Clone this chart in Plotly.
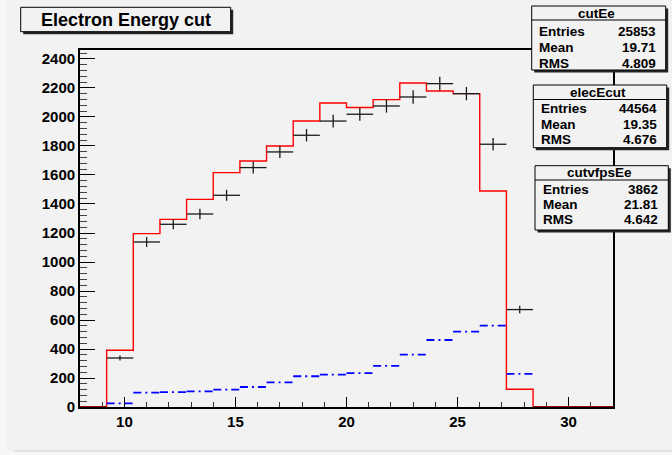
import numpy as np
import plotly.graph_objects as go

# ---------------- data ----------------
x_min, x_max, n_bins = 8.0, 32.0, 20

# cutEe (red histogram)
cutEe_counts = [0, 391, 1196, 1294, 1432, 1616, 1697, 1800, 1972, 2097,
                2065, 2120, 2234, 2179, 2161, 1490, 122, 0, 0, 0]
# elecEcut (black points with errors, scaled)
elec_counts = [0, 338, 1138, 1260, 1331, 1460, 1651, 1759, 1874, 1972,
               2019, 2076, 2138, 2230, 2161, 1812, 672, 0, 0, 0]
elec_errors = [0, 18, 34, 35, 36, 38, 41, 42, 43, 44,
               45, 46, 46, 47, 46, 43, 26, 0, 0, 0]
# cutvfpsEe (blue dash-dot)
vfps_counts = [0, 25, 99, 103, 108, 120, 138, 170, 212, 223,
               234, 283, 361, 462, 520, 561, 228, 0, 0, 0]

title_text = "Electron Energy cut"
stat_names = ["cutEe", "elecEcut", "cutvfpsEe"]
stat_entries = ["25853", "44564", "3862"]
stat_means = ["19.71", "19.35", "21.81"]
stat_rms = ["4.809", "4.676", "4.642"]

y_range = [0, 2462]
x_ticks = [10, 15, 20, 25, 30]

# ---------------- geometry helpers ----------------
W, H = 672, 455
L, R, T, B = 80, 613, 50, 407


def px(x):
    return (x - L) / (R - L)


def py(y):
    return (B - y) / (B - T)


edges = np.linspace(x_min, x_max, n_bins + 1)
centers = 0.5 * (edges[:-1] + edges[1:])
half_w = 0.5 * (edges[1] - edges[0])

fig = go.Figure()

# red step histogram
fig.add_trace(go.Scatter(
    x=list(edges), y=list(cutEe_counts) + [cutEe_counts[-1]],
    mode="lines", line=dict(color="#ff0000", width=1.4, shape="hv"),
    hoverinfo="skip", showlegend=False))

# dark red where the red histogram lies on the axis
zx, zy = [], []
for i, c in enumerate(cutEe_counts):
    if c == 0:
        zx += [edges[i], edges[i + 1], None]
        zy += [0, 0, None]
fig.add_trace(go.Scatter(x=zx, y=zy, mode="lines",
                         line=dict(color="#9a0000", width=2),
                         hoverinfo="skip", showlegend=False))

# blue dash-dot segments
bx, by = [], []
for i, c in enumerate(vfps_counts):
    if c > 0:
        bx += [edges[i], edges[i + 1], None]
        by += [c, c, None]
fig.add_trace(go.Scatter(x=bx, y=by, mode="lines",
                         line=dict(color="#0000ff", width=1.8, dash="8px,4px,2px,4px"),
                         hoverinfo="skip", showlegend=False))

# black points with error bars
mask = [c > 0 for c in elec_counts]
ex = [centers[i] for i in range(n_bins) if mask[i]]
ey = [elec_counts[i] for i in range(n_bins) if mask[i]]
ee = [elec_errors[i] for i in range(n_bins) if mask[i]]
fig.add_trace(go.Scatter(
    x=ex, y=ey, mode="markers",
    marker=dict(size=1, color="rgba(0,0,0,0)"),
    error_x=dict(type="constant", value=half_w, width=0, thickness=1.3, color="#1a1a1a"),
    error_y=dict(type="data", array=ee, width=0, thickness=1.3, color="#1a1a1a"),
    hoverinfo="skip", showlegend=False))

tickfont = dict(family="Liberation Sans", size=15, color="black", weight="bold")

fig.update_xaxes(range=[x_min, x_max], tickmode="array", tickvals=x_ticks,
                 ticks="inside", ticklen=10, tickwidth=1.2, tickcolor="black",
                 minor=dict(dtick=1, tick0=0, ticks="inside", ticklen=5, tickwidth=1.2, tickcolor="#333"),
                 showline=True, linecolor="black", linewidth=1.5, mirror=True,
                 showgrid=False, zeroline=False, tickfont=tickfont, layer="below traces")
fig.update_yaxes(range=y_range, dtick=200, tick0=0,
                 ticks="inside", ticklen=15, tickwidth=1.2, tickcolor="black",
                 minor=dict(dtick=40, tick0=0, ticks="inside", ticklen=7, tickwidth=1.2, tickcolor="#444"),
                 showline=True, linecolor="black", linewidth=1.8, mirror=True,
                 showgrid=False, zeroline=False, tickfont=tickfont, layer="below traces")

shapes = []
annotations = []

# canvas decorations
shapes.append(dict(type="rect", xref="paper", yref="paper",
                   x0=px(0), x1=px(7), y0=py(H), y1=py(0),
                   fillcolor="#f7f7f7", line=dict(width=0), layer="below"))
shapes.append(dict(type="line", xref="paper", yref="paper",
                   x0=px(14), x1=px(W), y0=py(451), y1=py(451),
                   line=dict(color="#d0d0d0", width=1.2), layer="below"))
shapes.append(dict(type="rect", xref="paper", yref="paper",
                   x0=px(7), x1=px(W), y0=py(H), y1=py(451.8),
                   fillcolor="#f7f7f7", line=dict(width=0), layer="below"))


def box(x0, y0, x1, y1, shadow=2.5):
    shapes.append(dict(type="rect", xref="paper", yref="paper",
                       x0=px(x0 + shadow), x1=px(x1 + shadow),
                       y0=py(y1 + shadow), y1=py(y0 + shadow),
                       fillcolor="#262626", line=dict(width=0), layer="above"))
    shapes.append(dict(type="rect", xref="paper", yref="paper",
                       x0=px(x0), x1=px(x1), y0=py(y1), y1=py(y0),
                       fillcolor="#f2f2f2", line=dict(color="black", width=1), layer="above"))


def text(x, y, s, size, anchor):
    annotations.append(dict(xref="paper", yref="paper", x=px(x), y=py(y),
                            text=s, showarrow=False, xanchor=anchor, yanchor="middle",
                            font=dict(family="Liberation Sans", size=size, color="black", weight="bold")))


# title box
box(20.7, 7.3, 230.7, 31.7, shadow=2.5)
text(125.7, 19.5, title_text, 18, "center")

# stats boxes
box_geom = [
    (531.7, 6.0, 665.7, 70.0, 20.0, 13.3, [32.0, 47.7, 63.3]),
    (533.3, 85.0, 666.7, 147.7, 99.5, 92.5, [109.0, 124.3, 139.6]),
    (535.0, 165.7, 668.3, 230.0, 180.0, 172.8, [189.3, 204.3, 219.3]),
]
for k, (x0, y0, x1, y1, sep, ty, rows) in enumerate(box_geom):
    box(x0, y0, x1, y1, shadow=2.5)
    shapes.append(dict(type="line", xref="paper", yref="paper",
                       x0=px(x0), x1=px(x1), y0=py(sep), y1=py(sep),
                       line=dict(color="black", width=1), layer="above"))
    text((x0 + x1) / 2 - 2, ty, stat_names[k], 13.5, "center")
    labels = ["Entries", "Mean", "RMS"]
    vals = [stat_entries[k], stat_means[k], stat_rms[k]]
    for lab, val, ry in zip(labels, vals, rows):
        text(x0 + 5.5, ry, lab, 13.5, "left")
        text(x1 - 8, ry, val, 13.5, "right")

fig.update_layout(
    width=W, height=H,
    margin=dict(l=L, r=W - R, t=T, b=H - B, pad=0),
    paper_bgcolor="#f2f2f2", plot_bgcolor="#f2f2f2",
    shapes=shapes, annotations=annotations,
    showlegend=False,
)

fig.write_html("out.html")
